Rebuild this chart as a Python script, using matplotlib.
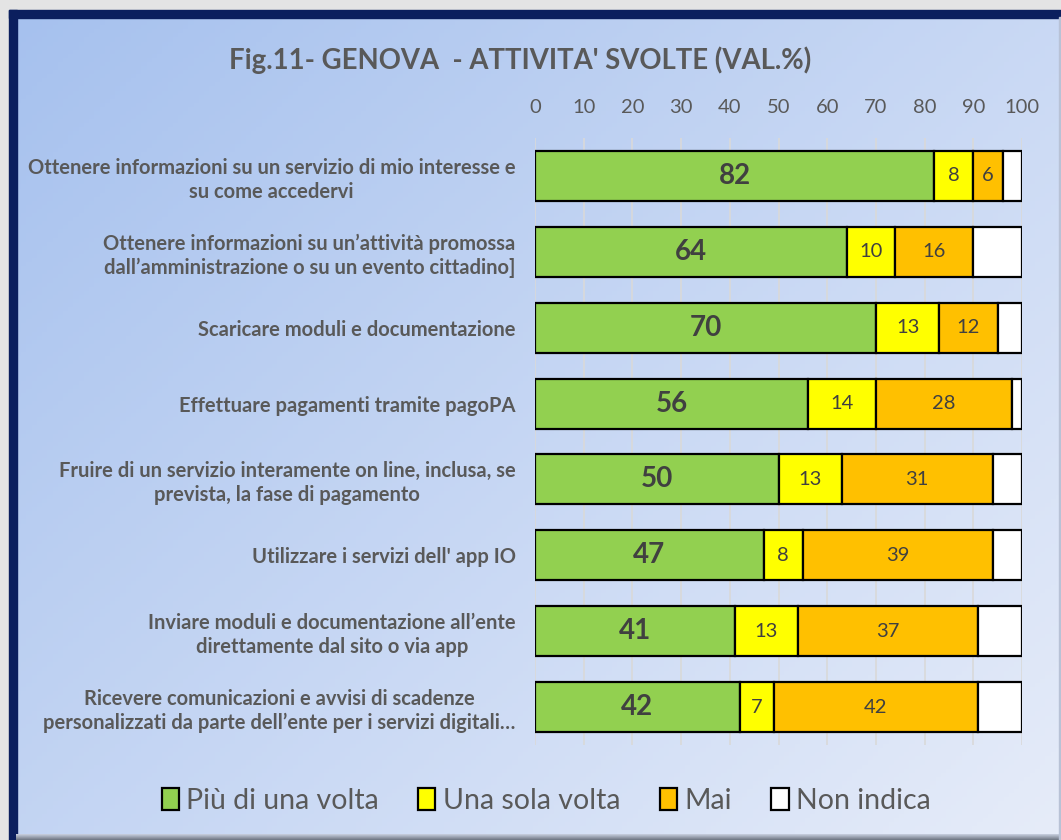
import numpy as np
import matplotlib
matplotlib.use("Agg")
import matplotlib.pyplot as plt
from matplotlib.patches import Rectangle

categories = [
    "Ottenere informazioni su un servizio di mio interesse e\nsu come accedervi",
    "Ottenere informazioni su un\u2019attività promossa\ndall\u2019amministrazione o su un evento cittadino]",
    "Scaricare moduli e documentazione",
    "Effettuare pagamenti tramite pagoPA",
    "Fruire di un servizio interamente on line, inclusa, se\nprevista, la fase di pagamento",
    "Utilizzare i servizi dell' app IO",
    "Inviare moduli e documentazione all\u2019ente\ndirettamente dal sito o via app",
    "Ricevere comunicazioni e avvisi di scadenze\npersonalizzati da parte dell\u2019ente per i servizi digitali\u2026",
]
series_names = ["Più di una volta", "Una sola volta", "Mai", "Non indica"]
piu_volte = [82, 64, 70, 56, 50, 47, 41, 42]
una_volta = [8, 10, 13, 14, 13, 8, 13, 7]
mai = [6, 16, 12, 28, 31, 39, 37, 42]
non_indica = [4, 10, 5, 2, 6, 6, 9, 9]
xticks = [0, 10, 20, 30, 40, 50, 60, 70, 80, 90, 100]
title = "Fig.11- GENOVA  - ATTIVITA' SVOLTE (VAL.%)"

colors = ["#92D050", "#FFFF00", "#FFC000", "#FFFFFF"]
FONT = "Lato"
TXT = "#595959"

W, H = 1061, 840
fig = plt.figure(figsize=(W / 100, H / 100), dpi=100)
fig.patch.set_facecolor("#e4e4e4")

# background panel with gradient
bg = fig.add_axes([0, 0, 1, 1], zorder=-10)
bg.set_xlim(0, W)
bg.set_ylim(H, 0)
bg.axis("off")
xx, yy = np.meshgrid(np.linspace(0, 1, 200), np.linspace(0, 1, 200))
t = np.clip(0.55 * xx + 0.45 * yy, 0, 1)[..., None]
c0 = np.array([0xa6, 0xc1, 0xee]) / 255
c1 = np.array([0xe6, 0xec, 0xf9]) / 255
grad = c0 * (1 - t) + c1 * t
bg.imshow(grad, extent=(16, W, H - 6, 17), aspect="auto", zorder=1)
bg.add_patch(Rectangle((9, 10), W, 8, color="#0b1f5e", zorder=2))
bg.add_patch(Rectangle((9, 10), 7.5, H, color="#0b1f5e", zorder=2))
# bottom bevel gradient
bev = np.linspace(0, 1, 20)[:, None, None]
btop = np.array([0xc8, 0xd0, 0xe0]) / 255
bbot = np.array([0x6e, 0x75, 0x82]) / 255
bimg = btop * (1 - bev) + bbot * bev
bg.imshow(bimg, extent=(16, W, H, H - 6), aspect="auto", zorder=2)
bg.add_patch(Rectangle((W - 2.5, 17), 2.5, H, color="#b8c2d6", zorder=2))

ax = fig.add_axes([535 / W, 1 - 745 / H, (1022 - 535) / W, (745 - 138) / H])
ax.patch.set_alpha(0)
y = np.arange(len(categories))
left = np.zeros(len(categories))
data = [piu_volte, una_volta, mai, non_indica]
for i, (vals, col) in enumerate(zip(data, colors)):
    vals = np.array(vals, dtype=float)
    ax.barh(y, vals, left=left, height=0.66, color=col, edgecolor="black",
            linewidth=1.6, label=series_names[i], zorder=3)
    if i < 3:
        for yi, (l, v) in enumerate(zip(left, vals)):
            if i == 0:
                ax.text(l + v / 2, yi, f"{v:.0f}", ha="center", va="center",
                        fontsize=20, fontweight="bold", color="#404040",
                        family=FONT, zorder=4)
            else:
                ax.text(l + v / 2, yi, f"{v:.0f}", ha="center", va="center",
                        fontsize=14.5, color="#404040", family=FONT, zorder=4)
    left = left + vals

ax.set_xlim(0, 100)
ax.set_ylim(len(categories) - 0.5, -0.5)
ax.set_xticks(xticks)
ax.xaxis.tick_top()
ax.tick_params(axis="x", length=0, pad=16, labelsize=14.5, labelcolor=TXT)
for lab in ax.get_xticklabels():
    lab.set_family(FONT)
ax.grid(axis="x", color="#d9d9d9", linewidth=1.2, zorder=0)
ax.set_axisbelow(True)
ax.set_yticks(y)
ax.set_yticklabels(categories, fontsize=14.5, fontweight="bold", color=TXT,
                   family=FONT, multialignment="center", linespacing=1.25)
ax.tick_params(axis="y", length=0, pad=14)
for s in ax.spines.values():
    s.set_visible(False)

fig.text(520 / W, 1 - 60 / H, title, ha="center", va="center", fontsize=19.8,
         fontweight="bold", color=TXT, family=FONT)

handles = [Rectangle((0, 0), 1, 1, facecolor=c, edgecolor="black", linewidth=1.6)
           for c in colors]
leg = fig.legend(handles, series_names, loc="center", ncol=4,
                 bbox_to_anchor=(546 / W, 1 - 801 / H), frameon=False,
                 prop={"family": FONT, "size": 20.5}, handlelength=0.6,
                 handleheight=0.8, handletextpad=0.25, columnspacing=1.4)
for tx in leg.get_texts():
    tx.set_color(TXT)

fig.savefig("out.png", dpi=100)
